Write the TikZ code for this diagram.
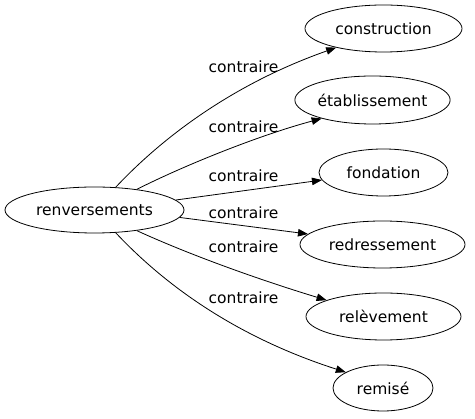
\documentclass[tikz,border=0pt]{standalone}
\usepackage{fontspec}
\setmainfont{DejaVu Sans}
\usepackage{tikz}
\usetikzlibrary{shapes}
\usetikzlibrary{arrows.meta}
\tikzstyle{Node}=[ellipse,draw=black,inner sep=0pt,line width=.8pt,
font=\fontsize{15.5}{18}\selectfont]
\tikzstyle{Edge}=[draw=black,line width=.8pt,-{Triangle[length=10pt,width=7.5pt]}]
\tikzstyle{NodeST}=[inner sep=0pt,font=\fontsize{15.5}{18}\selectfont]

\begin{document}
\begin{tikzpicture}[x=1pt,y=-1pt]
        \useasboundingbox(0,0)rectangle(475,419);
        \node[Node,minimum width=179pt,minimum height=46pt](0)at(94.5,210){renversements};
        \node[Node,minimum width=157pt,minimum height=47pt](1)at(383.5,28.5){construction};
        \node[Node,minimum width=151pt,minimum height=48pt](2)at(372.5,100){établissement};
        \node[Node,minimum width=129pt,minimum height=47pt](3)at(383.5,172.5){fondation};
        \node[Node,minimum width=165pt,minimum height=47pt](4)at(382.5,244.5){redressement};
        \node[Node,minimum width=155pt,minimum height=47pt](5)at(383.5,316.5){relèvement};
        \node[Node,minimum width=100pt,minimum height=46pt](6)at(383,388){remisé};
        \node[NodeST](l1)at(243.5,67){contraire};
        \node[NodeST](l2)at(243.5,127){contraire};
        \node[NodeST](l3)at(243.5,176){contraire};
        \node[NodeST](l4)at(243.5,213){contraire};
        \node[NodeST](l5)at(243.5,247){contraire};
        \node[NodeST](l6)at(243.5,298){contraire};
        \draw[Edge](0.47)..controls(160,140)and(230,85)..(1.202);
        \draw[Edge](0.26)..controls(185,165)and(260,135)..(2.200);
        \draw[Edge](0.7)--(3.187);
        \draw[Edge](0.-5.5)--(4.172);
        \draw[Edge](0.-26)..controls(190,255)and(260,280)..(5.164);
        \draw[Edge](0.-47)..controls(160,280)and(230,335)..(6.157);
    \end{tikzpicture}
\end{document}
